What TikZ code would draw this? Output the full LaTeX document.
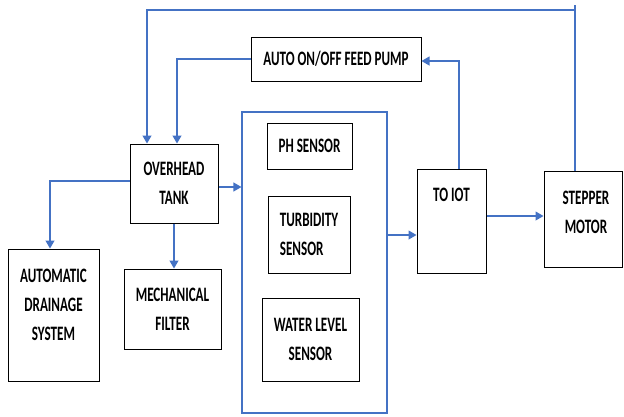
\documentclass[tikz,border=0pt]{standalone}
\usepackage{fontspec}
\setmainfont{Carlito}[FakeStretch=0.64]
\usetikzlibrary{arrows.meta}
\definecolor{lineblue}{RGB}{68,114,196}
\tikzset{
  lblfont/.style={font=\fontsize{20.5}{29}\selectfont\bfseries},
  box/.style={draw=black, line width=1pt, inner sep=0pt, lblfont, align=center},
  txt/.style={inner sep=0pt, lblfont, align=center},
  conn/.style={draw=lineblue, line width=1.1pt},
  arr/.style={conn, -{Triangle[width=9pt,length=8pt]}},
}
\begin{document}
\begin{tikzpicture}[x=1pt,y=-1pt]
\useasboundingbox (0,0) rectangle (624,416);
% boxes
\node[box, minimum width=170pt, minimum height=44pt] (pump) at (336,59) {AUTO ON/OFF FEED PUMP};
\node[box, minimum width=88pt, minimum height=79pt] (overhead) at (174,183.5) {OVERHEAD\\TANK};
\node[box, minimum width=91pt, minimum height=132pt] (drain) at (53.5,315) {};
\node[txt] (drainlbl) at (53.5,305) {AUTOMATIC\\DRAINAGE\\SYSTEM};
\node[box, minimum width=97pt, minimum height=80pt] (filter) at (172.5,309) {MECHANICAL\\FILTER};
\node[draw=lineblue, line width=1.1pt, minimum width=145pt, minimum height=301pt, inner sep=0pt] (sensors) at (314.5,262.5) {};
\node[box, minimum width=85pt, minimum height=46pt] (ph) at (309.5,146) {PH SENSOR};
\node[box, minimum width=82pt, minimum height=77pt, align=left] (turb) at (309,234.5) {TURBIDITY\\SENSOR};
\node[box, minimum width=97pt, minimum height=83pt] (water) at (310.5,339.5) {WATER LEVEL\\SENSOR};
\node[box, minimum width=69pt, minimum height=104pt] (iot) at (451.5,221) {};
\node[txt] (iotlbl) at (451.5,195) {TO IOT};
\node[box, minimum width=78pt, minimum height=96pt] (stepper) at (583,219) {};
\node[txt] (steplbl) at (586,212.5) {STEPPER\\MOTOR};
% helper coordinates
\coordinate (tr) at (575,5);
\coordinate (tl) at (147,10);
\coordinate (pl) at (177,59);
\coordinate (ir) at (459,61);
\coordinate (dl) at (50,181);
\coordinate (c187) at (0,187);
\coordinate (c235) at (0,235);
\coordinate (c216) at (0,216);
% connectors
\draw[conn] (stepper.north -| tr) -- (tr);
\draw[arr] (tr |- tl) -- (tl) -- (tl |- overhead.north);
\draw[arr] (pump.west) -- (pl) -- (pl |- overhead.north);
\draw[arr] (iot.north -| ir) -- (ir) -- (ir -| pump.east);
\draw[arr] (overhead.east |- c187) -- (sensors.west |- c187);
\draw[arr] (overhead.west |- dl) -- (dl) -- (dl |- drain.north);
\draw[arr] (overhead.south) -- (overhead.south |- filter.north);
\draw[arr] (sensors.east |- c235) -- (iot.west |- c235);
\draw[arr] (iot.east |- c216) -- (stepper.west |- c216);
\end{tikzpicture}
\end{document}
